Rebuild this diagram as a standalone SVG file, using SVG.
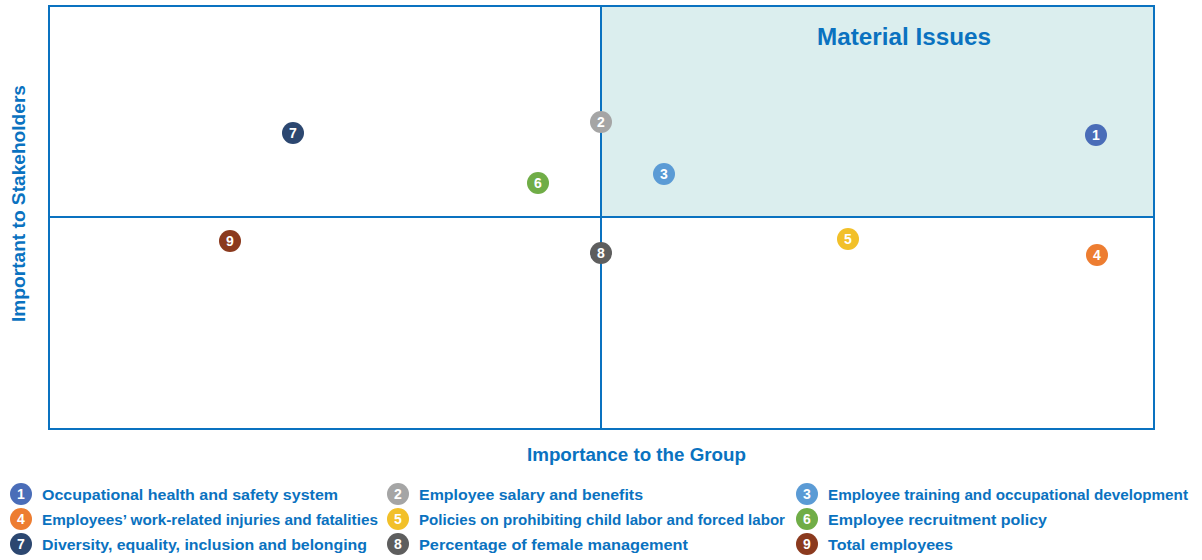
<svg xmlns="http://www.w3.org/2000/svg" width="1202" height="560" viewBox="0 0 1202 560">
<style>
.lbl{font-family:"Liberation Sans",Arial,sans-serif;font-weight:bold;font-size:15.5px;fill:#0a72c0}
.ax{font-family:"Liberation Sans",Arial,sans-serif;font-weight:bold;font-size:18px;fill:#0a72c0}
.num{font-family:"Liberation Sans",Arial,sans-serif;font-weight:bold;font-size:14px;fill:#fff;text-anchor:middle}
.frame{fill:none;stroke:#0a72c0;stroke-width:2}
</style>
<rect width="1202" height="560" fill="#fff"/>
<g id="quadrants">
<rect x="601" y="6" width="553" height="211" fill="#dbeeee"/>
<rect class="frame" x="49" y="6" width="1105" height="423"/>
<line class="frame" x1="601" y1="6" x2="601" y2="429"/>
<line class="frame" x1="49" y1="217" x2="1154" y2="217"/>
<text class="ax" x="817" y="45" style="font-size:23px" textLength="174" lengthAdjust="spacingAndGlyphs">Material Issues</text>
</g>
<g id="axes">
<text class="ax" x="527" y="461" textLength="219" lengthAdjust="spacingAndGlyphs">Importance to the Group</text>
<text class="ax" transform="translate(25,322) rotate(-90)" textLength="237" lengthAdjust="spacingAndGlyphs">Important to Stakeholders</text>
</g>
<g id="n1"><circle cx="1096" cy="135" r="11" fill="#4a6db8"/><text class="num" x="1096" y="140">1</text></g>
<g id="n2"><circle cx="601" cy="122" r="11" fill="#a5a5a5"/><text class="num" x="601" y="127">2</text></g>
<g id="n3"><circle cx="664" cy="174" r="11" fill="#5b9bd5"/><text class="num" x="664" y="179">3</text></g>
<g id="n4"><circle cx="1097" cy="255" r="11" fill="#ed7d31"/><text class="num" x="1097" y="260">4</text></g>
<g id="n5"><circle cx="848" cy="239" r="11" fill="#f2c029"/><text class="num" x="848" y="244">5</text></g>
<g id="n6"><circle cx="538" cy="183" r="11" fill="#70ad47"/><text class="num" x="538" y="188">6</text></g>
<g id="n7"><circle cx="293" cy="133" r="11" fill="#2c4770"/><text class="num" x="293" y="138">7</text></g>
<g id="n8"><circle cx="601" cy="253" r="11" fill="#5e5e5e"/><text class="num" x="601" y="258">8</text></g>
<g id="n9"><circle cx="230" cy="241" r="11" fill="#8b3a1e"/><text class="num" x="230" y="246">9</text></g>
<g id="legend">
<circle cx="21" cy="494" r="11" fill="#4a6db8"/><text class="num" x="21" y="499">1</text><text class="lbl" x="42" y="500" textLength="296" lengthAdjust="spacingAndGlyphs">Occupational health and safety system</text>
<circle cx="398" cy="494" r="11" fill="#a5a5a5"/><text class="num" x="398" y="499">2</text><text class="lbl" x="419" y="500" textLength="224" lengthAdjust="spacingAndGlyphs">Employee salary and benefits</text>
<circle cx="807" cy="494" r="11" fill="#5b9bd5"/><text class="num" x="807" y="499">3</text><text class="lbl" x="828" y="500" textLength="360" lengthAdjust="spacingAndGlyphs">Employee training and occupational development</text>
<circle cx="21" cy="519" r="11" fill="#ed7d31"/><text class="num" x="21" y="524">4</text><text class="lbl" x="42" y="525" textLength="336" lengthAdjust="spacingAndGlyphs">Employees’ work-related injuries and fatalities</text>
<circle cx="398" cy="519" r="11" fill="#f2c029"/><text class="num" x="398" y="524">5</text><text class="lbl" x="419" y="525" textLength="366" lengthAdjust="spacingAndGlyphs">Policies on prohibiting child labor and forced labor</text>
<circle cx="807" cy="519" r="11" fill="#70ad47"/><text class="num" x="807" y="524">6</text><text class="lbl" x="828" y="525" textLength="219" lengthAdjust="spacingAndGlyphs">Employee recruitment policy</text>
<circle cx="21" cy="544" r="11" fill="#2c4770"/><text class="num" x="21" y="549">7</text><text class="lbl" x="42" y="550" textLength="325" lengthAdjust="spacingAndGlyphs">Diversity, equality, inclusion and belonging</text>
<circle cx="398" cy="544" r="11" fill="#5e5e5e"/><text class="num" x="398" y="549">8</text><text class="lbl" x="419" y="550" textLength="269" lengthAdjust="spacingAndGlyphs">Percentage of female management</text>
<circle cx="807" cy="544" r="11" fill="#8b3a1e"/><text class="num" x="807" y="549">9</text><text class="lbl" x="828" y="550" textLength="125" lengthAdjust="spacingAndGlyphs">Total employees</text>
</g>
</svg>
